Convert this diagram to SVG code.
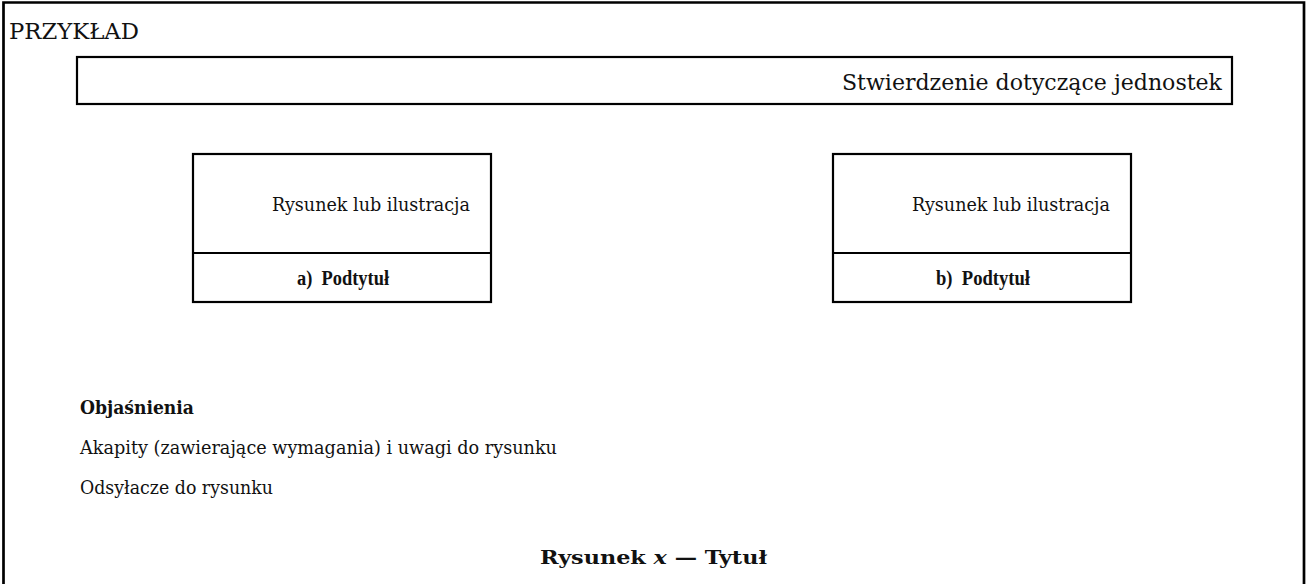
<svg xmlns="http://www.w3.org/2000/svg" width="1309" height="584" viewBox="0 0 1309 584">
<style>
  .frame{fill:none;stroke:#000;stroke-width:2.7}
  .box{fill:#fff;stroke:#000;stroke-width:2.2}
  .t{font-family:"DejaVu Serif","Liberation Serif",serif;font-size:18px;fill:#111}
  .lg{font-size:21.5px}
  .b{font-weight:bold}
  .sub{font-family:"Liberation Serif","DejaVu Serif",serif;font-size:20px;font-weight:bold;fill:#111}
</style>
<rect width="1309" height="584" fill="#fff"/>
<g id="frame">
  <path class="frame" d="M3.5,590 V2.5 H1304 V590"/>
  <text class="t lg" x="9" y="39" textLength="130" lengthAdjust="spacingAndGlyphs">PRZYKŁAD</text>
</g>
<g id="statement">
  <rect class="box" x="77" y="57" width="1155" height="47"/>
  <text class="t lg" x="842" y="90" textLength="380" lengthAdjust="spacingAndGlyphs">Stwierdzenie dotyczące jednostek</text>
</g>
<g id="figure-a">
  <rect class="box" x="193" y="154" width="298" height="148"/>
  <line class="box" x1="193" y1="253" x2="491" y2="253"/>
  <text class="t" x="272" y="211" textLength="198" lengthAdjust="spacingAndGlyphs">Rysunek lub ilustracja</text>
  <text class="sub" x="297" y="285" textLength="92" lengthAdjust="spacingAndGlyphs" xml:space="preserve">a)  Podtytuł</text>
</g>
<g id="figure-b">
  <rect class="box" x="833" y="154" width="298" height="148"/>
  <line class="box" x1="833" y1="253" x2="1131" y2="253"/>
  <text class="t" x="912" y="211" textLength="198" lengthAdjust="spacingAndGlyphs">Rysunek lub ilustracja</text>
  <text class="sub" x="936" y="285" textLength="94" lengthAdjust="spacingAndGlyphs" xml:space="preserve">b)  Podtytuł</text>
</g>
<g id="notes">
  <text class="t b" x="80" y="414" textLength="114" lengthAdjust="spacingAndGlyphs">Objaśnienia</text>
  <text class="t" x="80" y="454" textLength="477" lengthAdjust="spacingAndGlyphs">Akapity (zawierające wymagania) i uwagi do rysunku</text>
  <text class="t" x="80" y="494" textLength="193" lengthAdjust="spacingAndGlyphs">Odsyłacze do rysunku</text>
</g>
<g id="title">
  <text class="t b" x="540" y="564" font-size="20" textLength="227" lengthAdjust="spacingAndGlyphs">Rysunek <tspan font-style="italic">x</tspan> — Tytuł</text>
</g>
<g id="connectors"></g>
</svg>
